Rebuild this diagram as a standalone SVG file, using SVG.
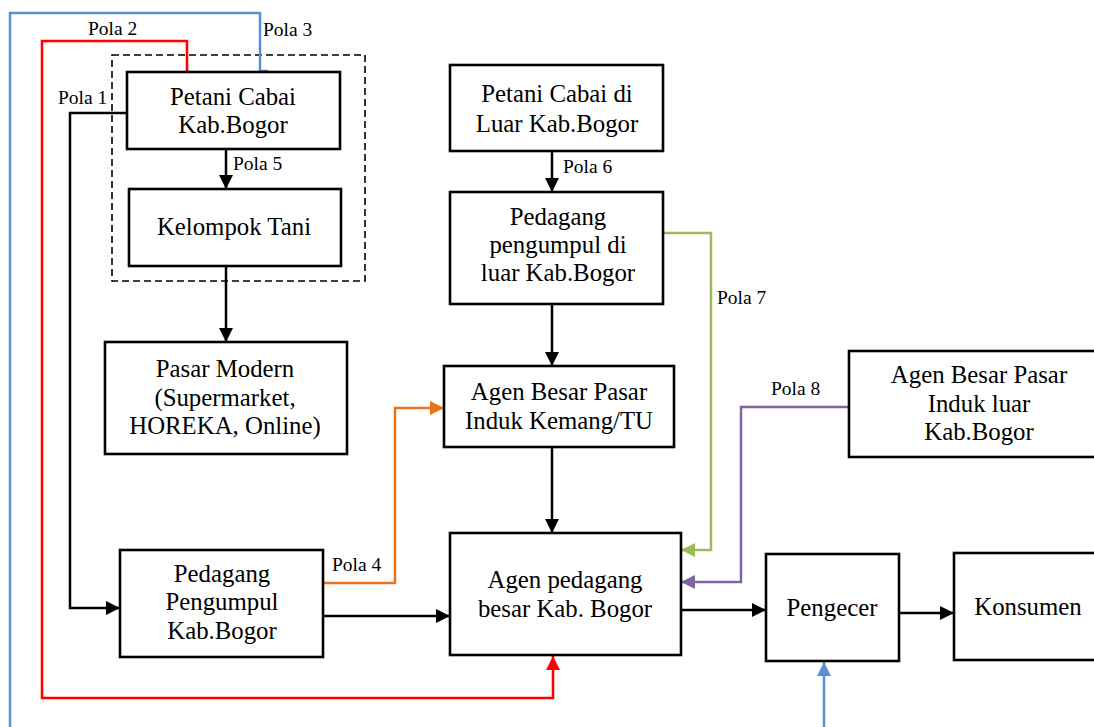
<svg xmlns="http://www.w3.org/2000/svg" width="1094" height="727" viewBox="0 0 1094 727">
  <style>
    .box { fill: #ffffff; stroke: #000000; stroke-width: 2.6; }
    .frame { fill: none; stroke: #000000; stroke-width: 1.6; stroke-dasharray: 7 4; }
    .lbl { font-family: "Liberation Serif", "Times New Roman", serif; font-size: 24.8px; fill: #000000; text-anchor: middle; }
    .pola { font-family: "Liberation Serif", "Times New Roman", serif; font-size: 19.5px; fill: #000000; }
    .ln { fill: none; stroke-width: 2.5; }
    .k { stroke: #000000; }
    .red { stroke: #ff0000; }
    .blue { stroke: #5b8fcf; }
    .orange { stroke: #e8731a; }
    .green { stroke: #9bbb59; }
    .purple { stroke: #8064a2; }
  </style>
  <defs>
    <marker id="ah-k" viewBox="0 0 14 14" refX="14" refY="7" markerWidth="14" markerHeight="14" markerUnits="userSpaceOnUse" orient="auto">
      <path d="M0,0 L14,7 L0,14 z" fill="#000000"/>
    </marker>
    <marker id="ah-red" viewBox="0 0 14 14" refX="14" refY="7" markerWidth="14" markerHeight="14" markerUnits="userSpaceOnUse" orient="auto">
      <path d="M0,0 L14,7 L0,14 z" fill="#ff0000"/>
    </marker>
    <marker id="ah-blue" viewBox="0 0 14 14" refX="14" refY="7" markerWidth="14" markerHeight="14" markerUnits="userSpaceOnUse" orient="auto">
      <path d="M0,0 L14,7 L0,14 z" fill="#5b8fcf"/>
    </marker>
    <marker id="ah-orange" viewBox="0 0 14 14" refX="14" refY="7" markerWidth="14" markerHeight="14" markerUnits="userSpaceOnUse" orient="auto">
      <path d="M0,0 L14,7 L0,14 z" fill="#e8731a"/>
    </marker>
    <marker id="ah-green" viewBox="0 0 14 14" refX="14" refY="7" markerWidth="14" markerHeight="14" markerUnits="userSpaceOnUse" orient="auto">
      <path d="M0,0 L14,7 L0,14 z" fill="#9bbb59"/>
    </marker>
    <marker id="ah-purple" viewBox="0 0 14 14" refX="14" refY="7" markerWidth="14" markerHeight="14" markerUnits="userSpaceOnUse" orient="auto">
      <path d="M0,0 L14,7 L0,14 z" fill="#8064a2"/>
    </marker>
  </defs>

  <rect width="1094" height="727" fill="#ffffff"/>

  <!-- dashed frame around the Bogor farmer cluster -->
  <rect class="frame" x="112" y="55" width="253" height="226"/>

  <!-- connectors -->
  <g id="connectors">
    <!-- Pola 1 -->
    <path class="ln k" d="M127,113 H70 V608 H120" marker-end="url(#ah-k)"/>
    <!-- Pola 2 -->
    <path class="ln red" d="M187,72 V41 H42 V698 H553 V656" marker-end="url(#ah-red)"/>
    <!-- Pola 3 -->
    <path class="ln blue" d="M268,71 H260 V13 H10 V727"/>
    <path class="ln blue" d="M824,727 V662" marker-end="url(#ah-blue)"/>
    <!-- Pola 5 -->
    <path class="ln k" d="M226,149 V189" marker-end="url(#ah-k)"/>
    <path class="ln k" d="M226,266 V342" marker-end="url(#ah-k)"/>
    <!-- Pola 6 -->
    <path class="ln k" d="M552,151 V192" marker-end="url(#ah-k)"/>
    <path class="ln k" d="M552,304 V366" marker-end="url(#ah-k)"/>
    <path class="ln k" d="M552,447 V533" marker-end="url(#ah-k)"/>
    <!-- Pola 7 -->
    <path class="ln green" d="M663,233 H711 V550 H681" marker-end="url(#ah-green)"/>
    <!-- Pola 8 -->
    <path class="ln purple" d="M849,407 H741 V582 H681" marker-end="url(#ah-purple)"/>
    <!-- Pola 4 -->
    <path class="ln orange" d="M323,583 H395 V408 H444" marker-end="url(#ah-orange)"/>
    <path class="ln k" d="M323,616 H450" marker-end="url(#ah-k)"/>
    <path class="ln k" d="M681,610 H766" marker-end="url(#ah-k)"/>
    <path class="ln k" d="M899,613 H954" marker-end="url(#ah-k)"/>
  </g>

  <!-- pattern labels -->
  <g id="labels">
    <text class="pola" x="58" y="104">Pola 1</text>
    <text class="pola" x="88" y="35">Pola 2</text>
    <text class="pola" x="263" y="36">Pola 3</text>
    <text class="pola" x="332" y="571">Pola 4</text>
    <text class="pola" x="233" y="170">Pola 5</text>
    <text class="pola" x="563" y="173">Pola 6</text>
    <text class="pola" x="717" y="304">Pola 7</text>
    <text class="pola" x="771" y="395">Pola 8</text>
  </g>

  <g id="petani-bogor">
    <rect class="box" x="127" y="72" width="213" height="77"/>
    <text class="lbl" x="233" y="105">Petani Cabai</text>
    <text class="lbl" x="233" y="133">Kab.Bogor</text>
  </g>

  <g id="kelompok-tani">
    <rect class="box" x="129" y="189" width="212" height="77"/>
    <text class="lbl" x="234" y="235">Kelompok Tani</text>
  </g>

  <g id="pasar-modern">
    <rect class="box" x="105" y="342" width="242" height="112"/>
    <text class="lbl" x="225" y="377">Pasar Modern</text>
    <text class="lbl" x="225" y="406">(Supermarket,</text>
    <text class="lbl" x="225" y="434">HOREKA, Online)</text>
  </g>

  <g id="petani-luar">
    <rect class="box" x="450" y="65" width="213" height="86"/>
    <text class="lbl" x="557" y="102">Petani Cabai di</text>
    <text class="lbl" x="557" y="132">Luar Kab.Bogor</text>
  </g>

  <g id="pengumpul-luar">
    <rect class="box" x="450" y="192" width="213" height="112"/>
    <text class="lbl" x="558" y="225">Pedagang</text>
    <text class="lbl" x="558" y="253">pengumpul di</text>
    <text class="lbl" x="558" y="281">luar Kab.Bogor</text>
  </g>

  <g id="agen-induk-kemang">
    <rect class="box" x="444" y="366" width="230" height="81"/>
    <text class="lbl" x="559" y="400">Agen Besar Pasar</text>
    <text class="lbl" x="559" y="429">Induk Kemang/TU</text>
  </g>

  <g id="agen-induk-luar">
    <rect class="box" x="849" y="351" width="260" height="106"/>
    <text class="lbl" x="979" y="383">Agen Besar Pasar</text>
    <text class="lbl" x="979" y="412">Induk luar</text>
    <text class="lbl" x="979" y="440">Kab.Bogor</text>
  </g>

  <g id="pengumpul-bogor">
    <rect class="box" x="120" y="550" width="203" height="107"/>
    <text class="lbl" x="222" y="582">Pedagang</text>
    <text class="lbl" x="222" y="610">Pengumpul</text>
    <text class="lbl" x="222" y="639">Kab.Bogor</text>
  </g>

  <g id="agen-pedagang-besar">
    <rect class="box" x="450" y="533" width="231" height="122"/>
    <text class="lbl" x="565" y="588">Agen pedagang</text>
    <text class="lbl" x="565" y="617">besar Kab. Bogor</text>
  </g>

  <g id="pengecer">
    <rect class="box" x="766" y="554" width="133" height="107"/>
    <text class="lbl" x="832" y="616">Pengecer</text>
  </g>

  <g id="konsumen">
    <rect class="box" x="954" y="553" width="160" height="107"/>
    <text class="lbl" x="1028" y="615">Konsumen</text>
  </g>
</svg>
